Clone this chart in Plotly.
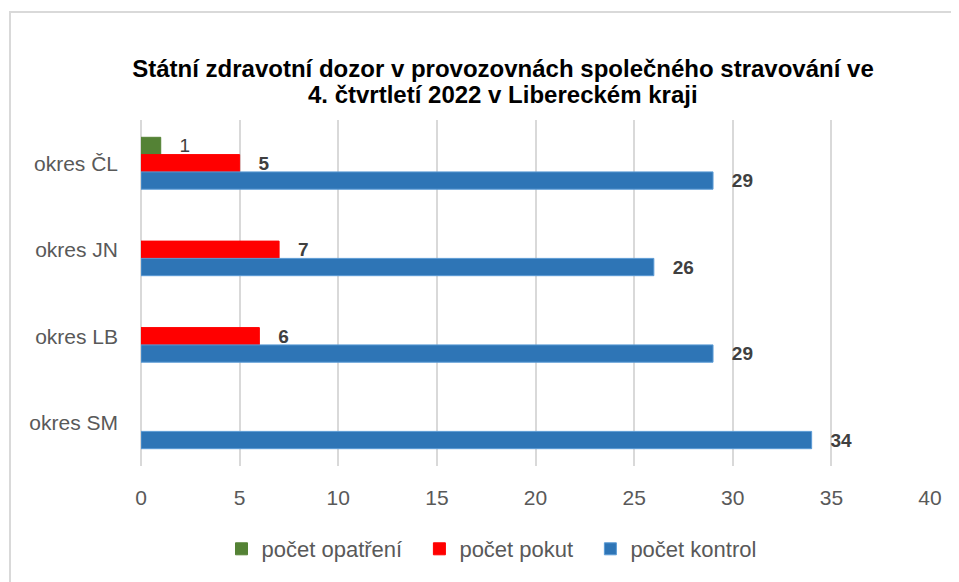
import plotly.graph_objects as go

categories = ["okres ČL", "okres JN", "okres LB", "okres SM"]
opatreni = [1, None, None, None]
pokuty = [5, 7, 6, None]
kontroly = [29, 26, 29, 34]

series_names = ["počet opatření", "počet pokut", "počet kontrol"]
colors = ["#548235", "#FF0000", "#2E75B6"]
edge_colors = ["#548235", "#FF0000", "#5B9BD5"]
title_line1 = "Státní zdravotní dozor v provozovnách společného stravování ve"
title_line2 = "4. čtvrtletí 2022 v Libereckém kraji"

W, H = 959, 582
L, R, T, B = 133, 37, 112, 124
pw, ph = W - L - R, H - T - B

def lbl(v):
    return "" if v is None else "\u00a0\u00a0\u00a0" + str(v)

fig = go.Figure()
for name, vals, col, ecol, bold in zip(series_names, [opatreni, pokuty, kontroly],
                                       colors, edge_colors, [False, True, True]):
    fig.add_trace(go.Bar(
        y=categories, x=vals, name=name + "\u00a0\u00a0", orientation="h",
        marker=dict(color=col, line=dict(color=ecol, width=1)),
        text=[lbl(v) for v in vals],
        textposition="outside",
        constraintext="none",
        cliponaxis=False,
        textfont=dict(family="Liberation Sans", size=19, color="#404040",
                      weight="bold" if bold else "normal"),
        hoverinfo="x+name",
    ))

fig.update_layout(
    width=W, height=H,
    margin=dict(l=L, r=R, t=T, b=B),
    paper_bgcolor="white", plot_bgcolor="white",
    barmode="group", bargap=0.4, bargroupgap=0,
    title=dict(
        text=title_line1,
        x=495 / W, xanchor="center", xref="container",
        y=1 - 61 / H, yanchor="middle", yref="container",
        font=dict(family="Liberation Sans", size=24, color="#000000", weight="bold"),
    ),
    xaxis=dict(
        range=[0, 40], dtick=5, tick0=0,
        showgrid=True, gridcolor="#D9D9D9", gridwidth=2,
        zeroline=True, zerolinecolor="#D9D9D9", zerolinewidth=2,
        showline=False, ticks="",
        ticklabelstandoff=17,
        tickfont=dict(family="Liberation Sans", size=21, color="#595959"),
    ),
    yaxis=dict(
        autorange="reversed", type="category",
        showgrid=False, showline=False, ticks="",
        ticklabelstandoff=22,
        tickfont=dict(family="Liberation Sans", size=21, color="#595959"),
    ),
    legend=dict(
        orientation="h", x=(490 - L) / pw, xanchor="center",
        y=(H - B - 541) / ph, yanchor="middle",
        font=dict(family="Liberation Sans", size=22, color="#595959"),
        itemwidth=30, traceorder="normal",
    ),
    showlegend=True,
)

fig.add_annotation(
    text=title_line2, showarrow=False,
    xref="paper", yref="paper",
    x=(495 - L) / pw, xanchor="center",
    y=(H - B - 86) / ph, yanchor="middle",
    font=dict(family="Liberation Sans", size=24, color="#000000", weight="bold"),
)

# outer chart frame
fig.add_shape(
    type="rect", xref="paper", yref="paper", layer="below",
    x0=(2 - L) / pw, x1=(947 - L) / pw,
    y0=(H - B - 590) / ph, y1=(H - B - 4) / ph,
    line=dict(color="#D9D9D9", width=2), fillcolor="rgba(0,0,0,0)",
)

fig.write_html("out.html")
